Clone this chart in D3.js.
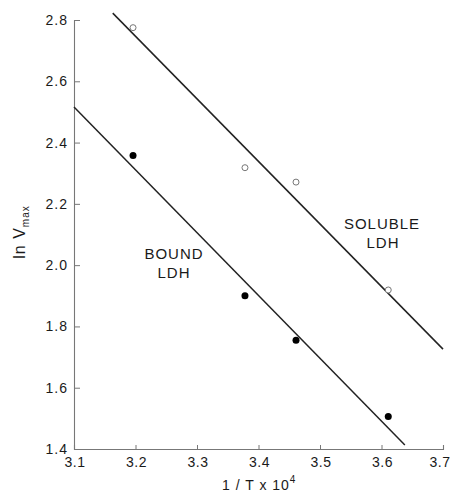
<!DOCTYPE html>
<html>
<head>
<meta charset="utf-8">
<script src="https://cdn.jsdelivr.net/npm/d3@7"></script>
<style>
  html, body { margin: 0; padding: 0; background: #fff; }
  svg { display: block; }
  text { font-family: "Liberation Sans", Arial, sans-serif; fill: #1a1a1a; }
</style>
</head>
<body>
<svg id="chart" width="453" height="495"></svg>
<script>
// Arrhenius plot: ln Vmax against 1/T (x 10^4) for bound and soluble LDH
const xTicks = [3.1, 3.2, 3.3, 3.4, 3.5, 3.6, 3.7];
const yTicks = [1.4, 1.6, 1.8, 2.0, 2.2, 2.4, 2.6, 2.8];

const invT = [3.196, 3.378, 3.461, 3.611];
const boundLnV = [2.358, 1.900, 1.755, 1.506];
const solubleLnV = [2.775, 2.318, 2.271, 1.919];

// fitted straight lines, endpoints in data units
const boundFit = [[3.1, 2.516], [3.638, 1.413]];
const solubleFit = [[3.163, 2.8225], [3.7, 1.726]];

const svg = d3.select("#chart");
const x = d3.scaleLinear().domain([3.1, 3.7]).range([74, 443]);
const y = d3.scaleLinear().domain([1.4, 2.8]).range([449, 20]);

// axes with inward ticks
const yAxis = svg.append("g").attr("transform", `translate(${x(3.1)},0)`)
  .call(d3.axisRight(y).tickValues(yTicks).tickSize(6).tickFormat(""));
const xAxis = svg.append("g").attr("transform", `translate(0,${y(1.4)})`)
  .call(d3.axisTop(x).tickValues(xTicks).tickSize(4).tickFormat(""));
[yAxis, xAxis].forEach(g => {
  g.select(".domain").attr("stroke", "#777").attr("stroke-width", 1.1);
  g.selectAll(".tick line").attr("stroke", "#777").attr("stroke-width", 1);
});

svg.append("g").selectAll("text").data(yTicks).join("text")
  .attr("x", 68).attr("y", d => y(d) + 5)
  .attr("text-anchor", "end").attr("font-size", 14).attr("letter-spacing", 1)
  .text(d => d.toFixed(1));

svg.append("g").selectAll("text").data(xTicks).join("text")
  .attr("x", d => Math.min(x(d) + 1, 440)).attr("y", 467)
  .attr("text-anchor", "middle").attr("font-size", 14).attr("letter-spacing", 0.5)
  .text(d => d.toFixed(1));

// axis titles
const yt = svg.append("text")
  .attr("transform", "translate(25,232) rotate(-90)")
  .attr("text-anchor", "middle").attr("font-size", 16).attr("letter-spacing", 1);
yt.append("tspan").text("ln V");
yt.append("tspan").attr("font-size", 10).attr("dy", 4).text("max");

const xt = svg.append("text").attr("x", 222).attr("y", 490)
  .attr("font-size", 14).attr("letter-spacing", 1);
xt.append("tspan").text("1 / T   x 10");
xt.append("tspan").attr("font-size", 10).attr("dy", -7).text("4");

// regression lines
const line = d3.line().x(d => x(d[0])).y(d => y(d[1]));
svg.append("path").datum(boundFit).attr("d", line)
  .attr("fill", "none").attr("stroke", "#222").attr("stroke-width", 1.5);
svg.append("path").datum(solubleFit).attr("d", line)
  .attr("fill", "none").attr("stroke", "#222").attr("stroke-width", 1.5);

// observations
svg.append("g").selectAll("circle").data(invT).join("circle")
  .attr("cx", d => x(d)).attr("cy", (d, i) => y(boundLnV[i]))
  .attr("r", 3.5).attr("fill", "#000");
svg.append("g").selectAll("circle").data(invT).join("circle")
  .attr("cx", d => x(d)).attr("cy", (d, i) => y(solubleLnV[i]))
  .attr("r", 3).attr("fill", "#fff").attr("stroke", "#777").attr("stroke-width", 1);

// series labels
const lab = (t, cx, by) => svg.append("text").attr("x", cx).attr("y", by)
  .attr("text-anchor", "middle").attr("font-size", 15).attr("letter-spacing", 1).text(t);
lab("BOUND", 174, 259);
lab("LDH", 174, 278);
lab("SOLUBLE", 382, 229);
lab("LDH", 383, 248);
</script>
</body>
</html>
